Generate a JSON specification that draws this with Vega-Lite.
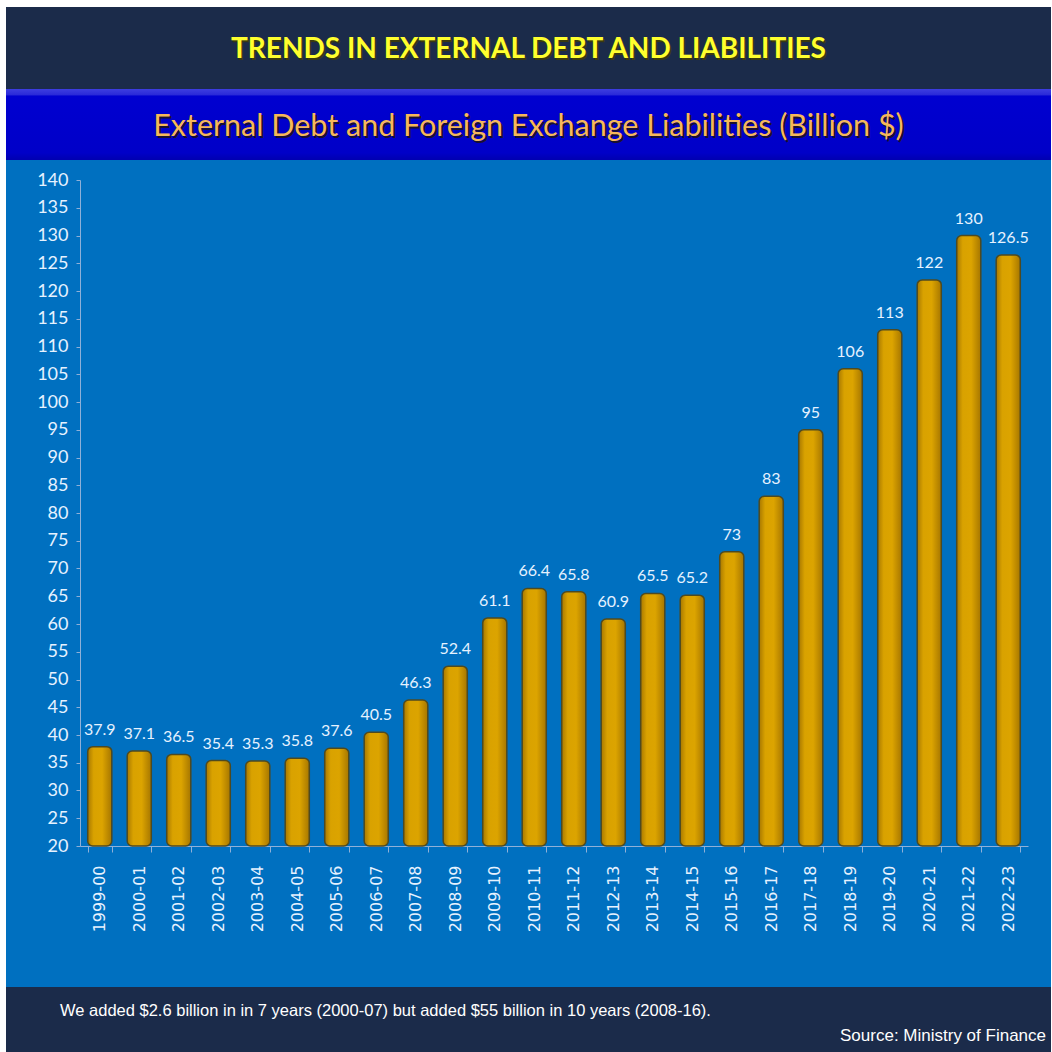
{
  "$schema": "https://vega.github.io/schema/vega-lite/v6.json",
  "background": "white",
  "padding": {"top": 7, "left": -2, "right": 1, "bottom": 0},
  "autosize": {"type": "pad"},
  "spacing": 0,
  "config": {
    "view": {"stroke": null},
    "concat": {"spacing": 0},
    "font": "Lato"
  },
  "vconcat": [
    {
      "width": 1045,
      "height": 82,
      "view": {"fill": "#1b2b4a", "stroke": null},
      "data": {"values": [{"t": "TRENDS IN EXTERNAL DEBT AND LIABILITIES"}]},
      "layer": [
        {
          "mark": {"type": "text", "font": "Lato", "fontSize": 28, "fontWeight": "bold", "color": "#3a3a10", "dx": 1.5, "dy": 3.5},
          "encoding": {"text": {"field": "t"}}
        },
        {
          "mark": {"type": "text", "font": "Lato", "fontSize": 28, "fontWeight": "bold", "color": "#ffff2e", "dy": 2},
          "encoding": {"text": {"field": "t"}}
        }
      ]
    },
    {
      "width": 1045,
      "height": 71,
      "view": {
        "fill": {"gradient": "linear", "x1": 0, "y1": 0, "x2": 0, "y2": 1,
          "stops": [
            {"offset": 0, "color": "#3d3de0"},
            {"offset": 0.08, "color": "#2a2ad8"},
            {"offset": 0.1, "color": "#0000d0"},
            {"offset": 0.9, "color": "#0000c8"},
            {"offset": 1, "color": "#0000b0"}
          ]},
        "stroke": null
      },
      "data": {"values": [{"t": "External Debt and Foreign Exchange Liabilities (Billion $)"}]},
      "layer": [
        {
          "mark": {"type": "text", "font": "Lato", "fontSize": 30.5, "color": "#1a1030", "dx": 2, "dy": 4},
          "encoding": {"text": {"field": "t"}}
        },
        {
          "mark": {"type": "text", "font": "Lato", "fontSize": 30.5, "color": "#f6b85a", "dy": 2},
          "encoding": {"text": {"field": "t"}}
        }
      ]
    },
    {
      "width": 1045,
      "height": 827,
      "view": {"fill": "#0070c0", "stroke": null},
      "data": {
        "values": [
          {"year": "1999-00", "value": 37.9},
          {"year": "2000-01", "value": 37.1},
          {"year": "2001-02", "value": 36.5},
          {"year": "2002-03", "value": 35.4},
          {"year": "2003-04", "value": 35.3},
          {"year": "2004-05", "value": 35.8},
          {"year": "2005-06", "value": 37.6},
          {"year": "2006-07", "value": 40.5},
          {"year": "2007-08", "value": 46.3},
          {"year": "2008-09", "value": 52.4},
          {"year": "2009-10", "value": 61.1},
          {"year": "2010-11", "value": 66.4},
          {"year": "2011-12", "value": 65.8},
          {"year": "2012-13", "value": 60.9},
          {"year": "2013-14", "value": 65.5},
          {"year": "2014-15", "value": 65.2},
          {"year": "2015-16", "value": 73},
          {"year": "2016-17", "value": 83},
          {"year": "2017-18", "value": 95},
          {"year": "2018-19", "value": 106},
          {"year": "2019-20", "value": 113},
          {"year": "2020-21", "value": 122},
          {"year": "2021-22", "value": 130},
          {"year": "2022-23", "value": 126.5}
        ]
      },
      "encoding": {
        "x": {
          "field": "year", "type": "nominal", "sort": null,
          "scale": {"range": [74, 1022], "paddingInner": 0.39, "paddingOuter": 0.195},
          "axis": {
            "title": null, "offset": -141, "labelAngle": -90, "labelAlign": "right", "labelBaseline": "middle",
            "labelFont": "DejaVu Sans", "labelFontSize": 16, "labelColor": "#e6f2ff", "labelPadding": 13,
            "domainColor": "#8fb0d8", "tickColor": "#8fb0d8", "tickSize": 6, "tickBand": "extent", "grid": false
          }
        },
        "y": {
          "field": "value", "type": "quantitative",
          "scale": {"domain": [20, 140], "range": [686, 20], "zero": false, "nice": false},
          "axis": {
            "title": null, "offset": -74,
            "values": [20, 25, 30, 35, 40, 45, 50, 55, 60, 65, 70, 75, 80, 85, 90, 95, 100, 105, 110, 115, 120, 125, 130, 135, 140],
            "labelFont": "Lato", "labelFontSize": 18, "labelColor": "#e6f2ff", "labelPadding": 8,
            "domainColor": "#8fb0d8", "tickColor": "#8fb0d8", "tickSize": 4, "grid": false
          }
        }
      },
      "layer": [
        {
          "mark": {
            "type": "bar", "cornerRadius": 5, "stroke": "#4d4a22", "strokeWidth": 1.5,
            "color": {"gradient": "linear", "x1": 0, "y1": 0, "x2": 1, "y2": 0,
              "stops": [
                {"offset": 0, "color": "#a87800"},
                {"offset": 0.25, "color": "#d9a200"},
                {"offset": 0.6, "color": "#dca400"},
                {"offset": 1, "color": "#a67600"}
              ]}
          },
          "encoding": {"y2": {"datum": 20}}
        },
        {
          "mark": {"type": "text", "font": "Lato", "fontSize": 16, "color": "#e6f2ff", "baseline": "alphabetic", "dy": -12},
          "encoding": {"text": {"field": "value", "type": "quantitative", "format": "~g"}}
        }
      ]
    },
    {
      "spacing": 0,
      "hconcat": [
        {
          "width": 760,
          "height": 65,
          "view": {"fill": "#1b2b4a", "stroke": null},
          "title": {
            "text": "We added $2.6 billion in in 7 years (2000-07) but added $55 billion in 10 years (2008-16).",
            "anchor": "start", "frame": "group", "orient": "top", "offset": -40, "baseline": "middle", "dx": 54,
            "font": "Liberation Sans", "fontSize": 16.5, "fontWeight": "normal", "color": "#ffffff"
          },
          "data": {"values": [{"t": ""}]},
          "mark": {"type": "text"},
          "encoding": {"text": {"field": "t"}}
        },
        {
          "width": 285,
          "height": 65,
          "view": {"fill": "#1b2b4a", "stroke": null},
          "title": {
            "text": "Source: Ministry of Finance",
            "anchor": "end", "frame": "group", "orient": "top", "offset": -66, "baseline": "middle", "dx": -5,
            "font": "Liberation Sans", "fontSize": 17, "fontWeight": "normal", "color": "#ffffff"
          },
          "data": {"values": [{"t": ""}]},
          "mark": {"type": "text"},
          "encoding": {"text": {"field": "t"}}
        }
      ]
    }
  ]
}
